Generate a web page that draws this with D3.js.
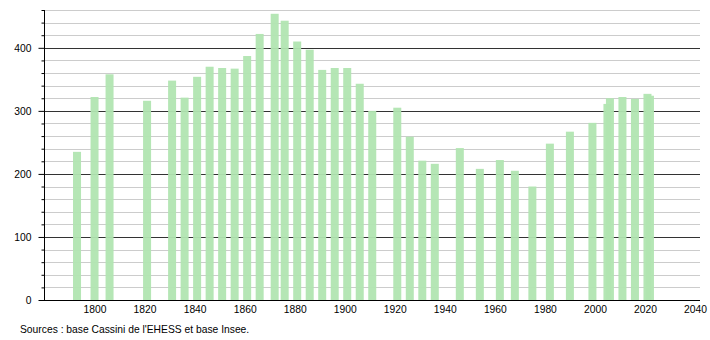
<!DOCTYPE html>
<html><head><meta charset="utf-8">
<script src="https://cdn.jsdelivr.net/npm/d3@7"></script>
<style>body{margin:0;background:#fff}svg{display:block}text{font-family:"Liberation Sans",Arial,sans-serif}</style>
</head><body><svg id="c" width="710" height="340"></svg>
<script>
const years = [1793,1800,1806,1821,1831,1836,1841,1846,1851,1856,1861,1866,1872,1876,1881,1886,1891,1896,1901,1906,1911,1921,1926,1931,1936,1946,1954,1962,1968,1975,1982,1990,1999,2005,2006,2011,2016,2021,2022];
const population = [235,322,358,316,348,321,354,370,368,367,387,422,454,443,410,397,365,368,368,343,300,305,259,221,216,241,208,222,205,180,248,267,281,311,320,322,319,327,324];
const xTicks = [1800,1820,1840,1860,1880,1900,1920,1940,1960,1980,2000,2020,2040];
const yMajor = [0,100,200,300,400];
const source = "Sources : base Cassini de l'EHESS et base Insee.";

const FS = 10.3;
const svg = d3.select("#c");
const x = d3.scaleLinear().domain([1780,2042]).range([44.5,700]);
const y = d3.scaleLinear().domain([0,460]).range([300,10]);

const minor = d3.range(20,461,20).filter(v=>v%100!==0);
svg.append("g").selectAll("line").data(minor).join("line")
  .attr("x1",44).attr("x2",700).attr("y1",d=>Math.round(y(d))+0.5).attr("y2",d=>Math.round(y(d))+0.5)
  .attr("stroke","#cccccc").attr("stroke-width",1);
svg.append("g").selectAll("line").data(yMajor.filter(v=>v>0)).join("line")
  .attr("x1",44).attr("x2",700).attr("y1",d=>Math.round(y(d))+0.5).attr("y2",d=>Math.round(y(d))+0.5)
  .attr("stroke","#333333").attr("stroke-width",1);

const bw = 8;
svg.append("g").selectAll("rect").data(years).join("rect")
  .attr("x",(d)=>x(d)-bw/2).attr("width",bw)
  .attr("y",(d,i)=>y(population[i])).attr("height",(d,i)=>y(0)-y(population[i]))
  .attr("fill","#b1e5b1").attr("fill-opacity",0.95);

// y axis
const ya = d3.axisLeft(y).tickValues(d3.range(0,461,20)).tickSize(3).tickFormat(d=>d%100===0?d:"");
const gy = svg.append("g").attr("transform","translate(44.5,0)").call(ya);
gy.select(".domain").attr("stroke","#000").attr("d","M0,10V300");
gy.selectAll(".tick line").attr("stroke","#000");
gy.selectAll(".tick").filter(d=>d%100===0).select("line").attr("x2",-6);
gy.selectAll("text").attr("font-size",FS).attr("fill","#000").attr("x",-13).attr("dy","0.35em")
  .attr("font-family","'Liberation Sans',Arial,sans-serif");

// x axis
const xa = d3.axisBottom(x).tickValues(xTicks).tickSize(0).tickFormat(d3.format("d"));
const gx = svg.append("g").attr("transform","translate(0,300.5)").call(xa);
gx.select(".domain").attr("stroke","#000").attr("d","M39,0H700");
gx.selectAll("text").attr("font-size",FS).attr("fill","#000").attr("y",5)
  .attr("font-family","'Liberation Sans',Arial,sans-serif");

svg.append("text").attr("x",20).attr("y",333).attr("font-size",FS).attr("fill","#000").text(source);
</script></body></html>
